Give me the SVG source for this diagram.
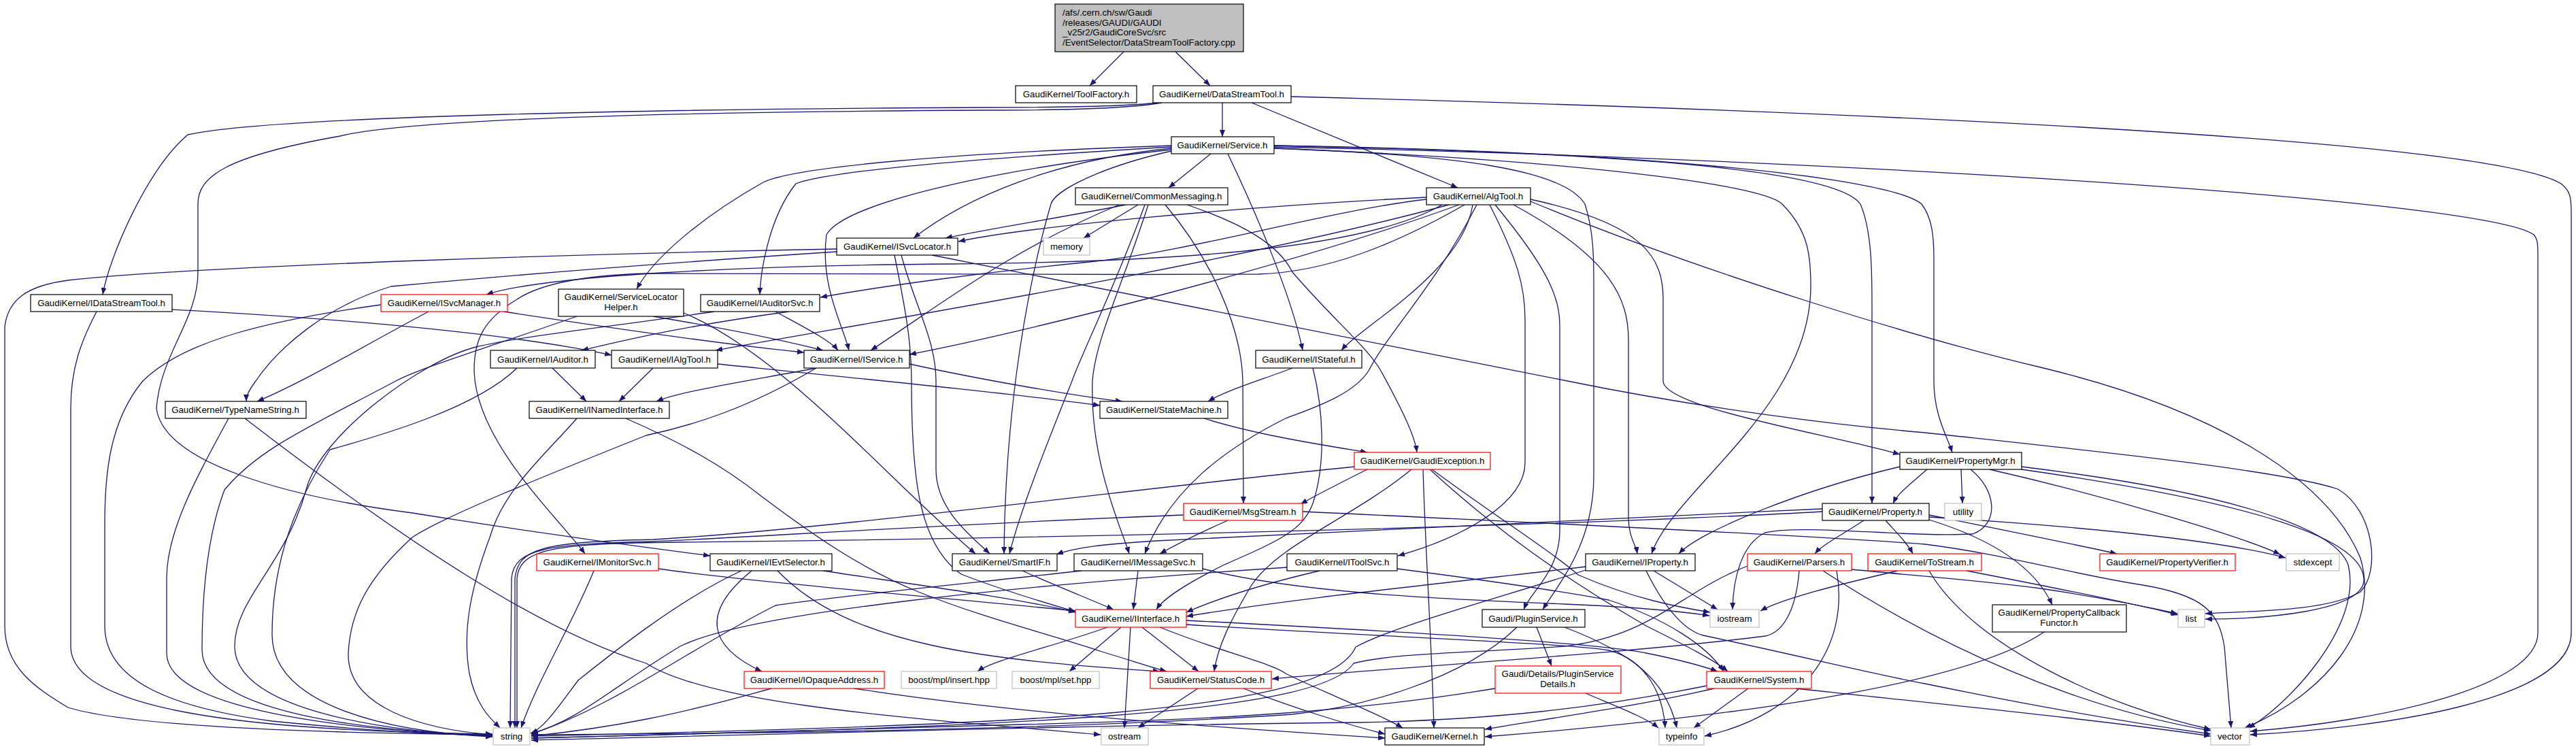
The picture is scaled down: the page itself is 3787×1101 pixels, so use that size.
<svg xmlns="http://www.w3.org/2000/svg" width="3787" height="1101" viewBox="0 0 3787 1101">
<defs>
<marker id="a" markerUnits="userSpaceOnUse" markerWidth="11" markerHeight="8" refX="10" refY="4" orient="auto"><path d="M0,0 L10,4 L0,8 z" fill="#191970"/></marker>
<style>
.node rect{fill:#fff;stroke:#000;stroke-width:1.2}
.node.red rect{stroke:#ff0000}
.node.gray rect{stroke:#bfbfbf}
.node.root rect{fill:#bfbfbf}
.node text{font-family:"Liberation Sans",Arial,Helvetica,sans-serif;font-size:13.3px;fill:#000;text-anchor:middle}
.node.root text{text-anchor:start}
#edges path{fill:none;stroke:#191970;stroke-width:1.3;marker-end:url(#a)}
</style>
</defs>
<rect x="0" y="0" width="3787" height="1101" fill="#fff"/>
<g id="edges">
<path d="M1652,76 L1602,126"/>
<path d="M1728,76 L1779,126"/>
<path d="M1797,151 L1797,201"/>
<path d="M1840,151 L2143,276"/>
<path d="M1702,151 C1650,157 1550,158 1450,158 C1000,160 400,170 276,198 C215,250 160,380 151,433"/>
<path d="M1708,151 C1660,160 1560,162 1450,162 C1000,164 600,175 500,200 C330,230 291,260 291,300 L291,400 C291,470 236,520 230,600 C240,680 420,730 606,754 C800,785 950,805 1044,817"/>
<path d="M1898,142 C2600,160 3650,200 3765,270 C3778,280 3780,290 3780,310 L3780,930 C3780,1030 3500,1070 3308,1080"/>
<path d="M1873,216 C2600,230 3650,290 3725,345 C3731,352 3731,360 3731,380 L3731,930 C3731,1010 3500,1060 3308,1075"/>
<path d="M1780,226 L1718,276"/>
<path d="M1722,218 C1550,235 1420,290 1343,350"/>
<path d="M1722,214 C1400,225 1170,245 1122,268 C1030,320 960,380 936,425"/>
<path d="M1722,216 C1450,232 1220,250 1170,270 C1130,320 1118,400 1117,433"/>
<path d="M1722,220 C1450,250 1240,300 1215,345 C1205,420 1240,480 1248,515"/>
<path d="M1805,226 C1850,320 1900,440 1915,515"/>
<path d="M1722,222 C1620,245 1550,280 1545,300 C1510,420 1478,600 1476,814"/>
<path d="M1873,214 C2400,222 2780,260 2825,300 C2840,320 2843,345 2843,380 L2843,560 C2843,610 2862,640 2870,665"/>
<path d="M1873,214 C2400,225 2700,250 2735,300 C2752,340 2752,400 2752,450 L2752,740"/>
<path d="M1873,218 C2300,235 2590,270 2620,300 C2660,340 2662,380 2662,420 C2662,600 2460,720 2428,814"/>
<path d="M1873,218 C2150,228 2300,250 2330,300 C2343,340 2343,380 2343,420 L2343,700 C2343,800 2290,860 2268,896"/>
<path d="M2120,301 C2000,370 1700,385 1400,388 C1100,390 800,405 715,433"/>
<path d="M2097,290 C1800,305 1500,335 1409,355"/>
<path d="M2097,293 C1950,310 1750,370 1602,385 C1450,400 1300,420 1206,437"/>
<path d="M2130,301 C1800,390 1300,470 1052,515"/>
<path d="M2145,301 C1900,390 1500,490 1337,521"/>
<path d="M2165,301 C2150,400 2000,480 1972,515"/>
<path d="M2153,301 C2050,360 1950,400 1850,403 C1500,405 1100,400 950,402 C850,405 790,420 760,440 C710,470 697,500 697,545 C700,650 820,760 860,814"/>
<path d="M2171,301 C2110,420 2040,490 2012,545 C1990,580 1930,600 1890,615 C1800,660 1720,720 1683,814"/>
<path d="M2190,301 C2230,380 2242,420 2242,470 L2242,680 C2242,740 2150,790 2055,817"/>
<path d="M2198,301 C2280,400 2293,440 2293,480 L2293,780 C2293,840 2250,870 2240,896"/>
<path d="M2225,301 C2370,380 2394,440 2394,500 L2394,760 C2394,790 2405,800 2407,814"/>
<path d="M2250,293 C2420,330 2445,380 2445,440 L2445,560 C2445,600 2700,640 2793,668"/>
<path d="M2250,296 C2500,400 2830,500 3000,540 C3250,600 3420,700 3470,820 C3500,920 3420,1020 3300,1070"/>
<path d="M1655,301 C1560,320 1460,335 1390,350"/>
<path d="M1645,301 C1480,370 1380,450 1280,515"/>
<path d="M1673,301 L1593,350"/>
<path d="M1683,301 C1640,420 1590,520 1576,560 C1540,650 1500,750 1484,814"/>
<path d="M1688,301 C1650,420 1610,500 1606,560 C1602,680 1650,780 1660,814"/>
<path d="M1713,301 C1780,380 1825,480 1827,560 L1828,740"/>
<path d="M1745,301 C1830,330 1880,360 1900,400 C1960,470 2010,510 2030,545 C2060,600 2080,640 2083,665"/>
<path d="M1230,366 C900,372 300,390 100,412 C40,420 12,440 7,480 L7,920 C7,980 50,1010 100,1040 C200,1070 500,1078 724,1080"/>
<path d="M1230,370 C1000,385 800,400 575,421 C480,450 410,510 376,560 C365,575 362,582 362,590"/>
<path d="M1325,375 C1345,450 1376,500 1376,560 L1376,690 C1376,750 1430,790 1455,814"/>
<path d="M1315,375 C1330,450 1340,500 1340,560 C1340,700 1350,800 1413,844 C1480,870 1550,890 1581,899"/>
<path d="M1370,375 C1700,440 2000,500 2304,560 C2500,600 2700,625 2830,636 C3050,660 3350,690 3437,719 C3490,750 3500,840 3470,870 C3420,900 3300,898 3242,902"/>
<path d="M560,448 C400,470 270,500 210,560 C160,620 154,700 154,770 L154,920 C154,1000 250,1040 400,1060 C550,1075 650,1080 724,1081"/>
<path d="M630,458 C550,500 450,560 378,590"/>
<path d="M740,458 C950,490 1100,510 1182,518"/>
<path d="M848,465 C720,510 620,540 582,560 C450,630 380,660 330,720 C300,800 297,900 297,955 C297,1050 550,1075 724,1081"/>
<path d="M960,465 C1050,480 1150,500 1210,515"/>
<path d="M1005,460 C1150,520 1300,700 1434,814"/>
<path d="M1160,458 C1000,480 920,500 855,515"/>
<path d="M1140,458 C1180,480 1220,500 1232,515"/>
<path d="M1050,458 C900,480 760,495 700,510 C620,530 470,640 450,720 C420,830 345,880 345,950 C345,1040 550,1075 724,1082"/>
<path d="M760,541 C700,600 560,640 485,661 C420,760 400,850 400,933 C400,1030 550,1075 724,1083"/>
<path d="M812,541 L862,590"/>
<path d="M960,541 L910,590"/>
<path d="M1055,535 C1300,560 1500,580 1617,596"/>
<path d="M1200,541 C1100,560 1000,575 965,590"/>
<path d="M1337,535 C1450,560 1600,585 1650,590"/>
<path d="M1200,541 C1100,600 1020,625 950,640 C800,700 650,760 606,790 C540,850 515,900 512,960 C510,1040 620,1072 724,1080"/>
<path d="M1900,541 C1850,560 1800,575 1776,590"/>
<path d="M1930,541 C1945,600 1950,680 1930,740 C1915,780 1880,795 1800,830 C1740,860 1710,880 1700,896"/>
<path d="M336,615 C290,700 245,780 245,850 L245,960 C245,1050 550,1075 724,1082"/>
<path d="M360,615 C600,800 800,930 950,975 C1050,1040 1400,1060 1618,1080"/>
<path d="M848,615 C800,670 740,720 720,790 C690,870 680,930 690,990 C700,1040 725,1060 735,1070"/>
<path d="M920,615 C1000,650 1061,683 1120,730 C1200,790 1267,836 1350,870 C1450,910 1546,933 1620,958 C1660,970 1690,980 1715,987"/>
<path d="M1770,615 C1850,640 1950,655 2010,665"/>
<path d="M1991,686 C1700,715 1200,780 960,793 C800,797 762,805 757,850 L757,1070"/>
<path d="M2010,690 C1970,710 1940,725 1912,741"/>
<path d="M2075,690 C1990,760 1880,800 1840,860 C1810,910 1790,950 1785,987"/>
<path d="M2092,690 C2095,800 2105,950 2108,1070"/>
<path d="M2102,690 C2200,780 2300,850 2420,920 C2480,950 2520,970 2540,987"/>
<path d="M2105,690 C2200,760 2280,810 2320,845 C2400,880 2470,893 2514,900"/>
<path d="M2833,690 C2810,710 2790,725 2783,740"/>
<path d="M2883,690 L2885,740"/>
<path d="M2793,686 C2650,720 2500,780 2468,814"/>
<path d="M2925,690 C3100,730 3300,790 3352,815"/>
<path d="M2972,686 C3250,720 3430,770 3452,830 C3475,920 3360,1040 3305,1070"/>
<path d="M2972,690 C3250,730 3470,780 3475,850 C3480,900 3320,910 3242,910"/>
<path d="M2897,690 C2935,720 2940,770 2900,785 C2800,790 2650,770 2595,783 C2560,800 2548,850 2547,896"/>
<path d="M2740,765 C2710,785 2680,800 2668,814"/>
<path d="M2772,765 C2790,785 2805,800 2812,814"/>
<path d="M2836,757 C2950,780 3050,800 3112,814"/>
<path d="M2836,760 C3000,770 3250,790 3360,820"/>
<path d="M2836,764 C2920,790 2990,830 3017,889"/>
<path d="M2679,752 C2400,768 1700,790 1000,797 C820,799 764,805 760,850 L760,1070"/>
<path d="M2679,748 C2300,765 1900,785 1700,795 C1620,800 1580,805 1553,815"/>
<path d="M1805,765 C1760,785 1730,800 1705,814"/>
<path d="M1740,757 C1400,770 1100,790 960,796 C805,800 756,806 752,850 L750,1070"/>
<path d="M1915,752 C2300,770 2700,790 2830,800 C2950,815 3050,845 3150,860 C3240,875 3262,900 3270,950 L3280,1070"/>
<path d="M1105,839 C1030,900 1040,950 1120,987"/>
<path d="M1090,839 C1000,880 900,960 850,1000 C820,1040 800,1070 780,1078"/>
<path d="M1143,839 C1250,950 1450,970 1705,987"/>
<path d="M1210,839 C1350,860 1500,880 1581,900"/>
<path d="M873,839 C840,920 790,1000 766,1070"/>
<path d="M968,836 C1100,855 1400,880 1581,898"/>
<path d="M1503,839 C1550,860 1600,880 1637,896"/>
<path d="M1673,839 L1666,896"/>
<path d="M1590,839 C1400,860 1200,880 1140,890 C1020,950 900,1040 781,1079"/>
<path d="M1768,836 C1900,870 2100,880 2300,888 C2420,893 2480,900 2513,905"/>
<path d="M1628,922 C1550,950 1460,970 1437,987"/>
<path d="M1648,922 L1572,987"/>
<path d="M1662,922 L1653,1070"/>
<path d="M1679,922 L1762,987"/>
<path d="M1705,922 C1800,960 1870,975 1890,990 C1950,1020 2030,1050 2062,1070"/>
<path d="M1744,912 C2000,925 2350,945 2420,960 C2470,970 2500,978 2525,987"/>
<path d="M1744,918 C2000,935 2300,945 2365,956 C2420,970 2445,1020 2448,1070"/>
<path d="M1761,1012 L1673,1070"/>
<path d="M1828,1012 C1900,1040 1980,1065 2036,1079"/>
<path d="M1134,1012 C1000,1050 900,1070 781,1082"/>
<path d="M1256,1012 C1500,1050 1800,1070 2036,1085"/>
<path d="M1940,839 C1850,860 1790,880 1744,900"/>
<path d="M2054,836 C2200,855 2300,870 2365,882 C2450,910 2510,950 2534,987"/>
<path d="M1892,834 C1500,860 1100,900 1000,950 C900,1010 850,1060 781,1078"/>
<path d="M2331,833 C2100,860 1900,880 1744,906"/>
<path d="M2431,839 L2525,896"/>
<path d="M2420,839 C2450,900 2480,928 2504,934 C2650,965 2750,990 2830,1005 C3000,1040 3150,1065 3250,1079"/>
<path d="M2331,838 C2200,880 2050,920 1993,951 C1950,1050 1500,1065 781,1082"/>
<path d="M2569,832 C2470,870 2430,935 2300,950 C2150,960 2050,960 1990,975 C1940,1050 1500,1068 781,1085"/>
<path d="M2645,839 C2640,900 2620,930 2595,935 C2400,960 2000,985 1870,998"/>
<path d="M2680,839 C2850,950 3050,1040 3250,1074"/>
<path d="M2722,837 C2800,845 2900,852 3000,865 C3100,880 3170,895 3201,902"/>
<path d="M2700,839 C2720,950 2650,1050 2506,1082"/>
<path d="M2790,839 C2700,860 2620,880 2588,898"/>
<path d="M2891,839 C3000,860 3150,890 3202,904"/>
<path d="M2836,839 C2900,950 3100,1040 3250,1072"/>
<path d="M3005,929 C2900,1000 2600,1050 2183,1083"/>
<path d="M2259,922 L2281,979"/>
<path d="M2300,922 C2400,960 2450,1000 2465,1070"/>
<path d="M2230,922 C2150,1000 2000,1040 1900,1050 C1600,1070 1200,1078 781,1080"/>
<path d="M2198,1012 C2000,1045 1800,1058 1500,1065 C1200,1072 1000,1080 781,1085"/>
<path d="M2331,1019 C2380,1040 2420,1055 2438,1070"/>
<path d="M2520,1012 C2400,1040 2250,1060 2183,1072"/>
<path d="M2570,1012 L2490,1070"/>
<path d="M2509,1008 C2350,1040 2200,1058 2000,1062 C1600,1066 1200,1078 781,1088"/>
<path d="M2640,1012 C2900,1040 3100,1060 3250,1082"/>
<path d="M253,455 C500,468 750,490 899,522"/>
<path d="M142,458 C120,500 104,540 104,600 L104,950 C104,1050 400,1075 724,1079"/>
</g>
<g id="n-root" class="node root"><rect x="1551" y="6" width="277" height="70"/><text x="1562" y="23">/afs/.cern.ch/sw/Gaudi</text><text x="1562" y="38">/releases/GAUDI/GAUDI</text><text x="1562" y="52">_v25r2/GaudiCoreSvc/src</text><text x="1562" y="67">/EventSelector/DataStreamToolFactory.cpp</text></g>
<g id="n-toolfactory" class="node"><rect x="1493" y="126" width="178" height="25"/><text x="1582" y="143">GaudiKernel/ToolFactory.h</text></g>
<g id="n-datastreamtool" class="node"><rect x="1695" y="126" width="203" height="25"/><text x="1796" y="143">GaudiKernel/DataStreamTool.h</text></g>
<g id="n-service" class="node"><rect x="1722" y="201" width="151" height="25"/><text x="1797" y="218">GaudiKernel/Service.h</text></g>
<g id="n-commonmessaging" class="node"><rect x="1581" y="276" width="224" height="25"/><text x="1693" y="293">GaudiKernel/CommonMessaging.h</text></g>
<g id="n-algtool" class="node"><rect x="2097" y="276" width="153" height="25"/><text x="2173" y="293">GaudiKernel/AlgTool.h</text></g>
<g id="n-isvclocator" class="node"><rect x="1230" y="350" width="178" height="25"/><text x="1319" y="367">GaudiKernel/ISvcLocator.h</text></g>
<g id="n-memory" class="node gray"><rect x="1534" y="350" width="68" height="25"/><text x="1568" y="367">memory</text></g>
<g id="n-idatastreamtool" class="node"><rect x="45" y="433" width="208" height="25"/><text x="149" y="450">GaudiKernel/IDataStreamTool.h</text></g>
<g id="n-isvcmanager" class="node red"><rect x="560" y="433" width="186" height="25"/><text x="653" y="450">GaudiKernel/ISvcManager.h</text></g>
<g id="n-servicelocatorhelper" class="node"><rect x="821" y="425" width="184" height="40"/><text x="913" y="441">GaudiKernel/ServiceLocator</text><text x="913" y="456">Helper.h</text></g>
<g id="n-iauditorsvc" class="node"><rect x="1030" y="433" width="175" height="25"/><text x="1117" y="450">GaudiKernel/IAuditorSvc.h</text></g>
<g id="n-iauditor" class="node"><rect x="721" y="515" width="154" height="26"/><text x="798" y="533">GaudiKernel/IAuditor.h</text></g>
<g id="n-ialgtool" class="node"><rect x="899" y="515" width="156" height="26"/><text x="977" y="533">GaudiKernel/IAlgTool.h</text></g>
<g id="n-iservice" class="node"><rect x="1182" y="515" width="155" height="26"/><text x="1259" y="533">GaudiKernel/IService.h</text></g>
<g id="n-istateful" class="node"><rect x="1846" y="515" width="156" height="26"/><text x="1924" y="533">GaudiKernel/IStateful.h</text></g>
<g id="n-typenamestring" class="node"><rect x="243" y="590" width="207" height="25"/><text x="346" y="607">GaudiKernel/TypeNameString.h</text></g>
<g id="n-inamedinterface" class="node"><rect x="778" y="590" width="206" height="25"/><text x="881" y="607">GaudiKernel/INamedInterface.h</text></g>
<g id="n-statemachine" class="node"><rect x="1617" y="590" width="188" height="25"/><text x="1711" y="607">GaudiKernel/StateMachine.h</text></g>
<g id="n-gaudiexception" class="node red"><rect x="1991" y="665" width="200" height="25"/><text x="2091" y="682">GaudiKernel/GaudiException.h</text></g>
<g id="n-propertymgr" class="node"><rect x="2793" y="665" width="179" height="25"/><text x="2882" y="682">GaudiKernel/PropertyMgr.h</text></g>
<g id="n-msgstream" class="node red"><rect x="1740" y="740" width="175" height="25"/><text x="1827" y="757">GaudiKernel/MsgStream.h</text></g>
<g id="n-property" class="node"><rect x="2679" y="740" width="157" height="25"/><text x="2757" y="757">GaudiKernel/Property.h</text></g>
<g id="n-utility" class="node gray"><rect x="2859" y="740" width="54" height="25"/><text x="2886" y="757">utility</text></g>
<g id="n-imonitorsvc" class="node red"><rect x="789" y="814" width="179" height="25"/><text x="878" y="831">GaudiKernel/IMonitorSvc.h</text></g>
<g id="n-ievtselector" class="node"><rect x="1044" y="814" width="179" height="25"/><text x="1133" y="831">GaudiKernel/IEvtSelector.h</text></g>
<g id="n-smartif" class="node"><rect x="1400" y="814" width="154" height="25"/><text x="1477" y="831">GaudiKernel/SmartIF.h</text></g>
<g id="n-imessagesvc" class="node"><rect x="1579" y="814" width="189" height="25"/><text x="1673" y="831">GaudiKernel/IMessageSvc.h</text></g>
<g id="n-itoolsvc" class="node"><rect x="1892" y="814" width="162" height="25"/><text x="1973" y="831">GaudiKernel/IToolSvc.h</text></g>
<g id="n-iproperty" class="node"><rect x="2331" y="814" width="161" height="25"/><text x="2411" y="831">GaudiKernel/IProperty.h</text></g>
<g id="n-parsers" class="node red"><rect x="2569" y="814" width="153" height="25"/><text x="2645" y="831">GaudiKernel/Parsers.h</text></g>
<g id="n-tostream" class="node red"><rect x="2746" y="814" width="167" height="25"/><text x="2829" y="831">GaudiKernel/ToStream.h</text></g>
<g id="n-propertyverifier" class="node red"><rect x="3087" y="814" width="199" height="25"/><text x="3186" y="831">GaudiKernel/PropertyVerifier.h</text></g>
<g id="n-stdexcept" class="node gray"><rect x="3361" y="814" width="78" height="25"/><text x="3400" y="831">stdexcept</text></g>
<g id="n-iinterface" class="node red"><rect x="1581" y="896" width="163" height="26"/><text x="1662" y="914">GaudiKernel/IInterface.h</text></g>
<g id="n-pluginservice" class="node"><rect x="2179" y="896" width="151" height="26"/><text x="2254" y="914">Gaudi/PluginService.h</text></g>
<g id="n-iostream" class="node gray"><rect x="2514" y="896" width="72" height="26"/><text x="2550" y="914">iostream</text></g>
<g id="n-list" class="node gray"><rect x="3202" y="896" width="39" height="26"/><text x="3221" y="914">list</text></g>
<g id="n-propertycallbackfunctor" class="node"><rect x="2929" y="889" width="197" height="40"/><text x="3027" y="905">GaudiKernel/PropertyCallback</text><text x="3027" y="920">Functor.h</text></g>
<g id="n-iopaqueaddress" class="node red"><rect x="1094" y="987" width="206" height="25"/><text x="1197" y="1004">GaudiKernel/IOpaqueAddress.h</text></g>
<g id="n-boostinsert" class="node gray"><rect x="1325" y="987" width="140" height="25"/><text x="1395" y="1004">boost/mpl/insert.hpp</text></g>
<g id="n-boostset" class="node gray"><rect x="1488" y="987" width="128" height="25"/><text x="1552" y="1004">boost/mpl/set.hpp</text></g>
<g id="n-statuscode" class="node red"><rect x="1691" y="987" width="178" height="25"/><text x="1780" y="1004">GaudiKernel/StatusCode.h</text></g>
<g id="n-pluginservicedetails" class="node red"><rect x="2198" y="979" width="185" height="40"/><text x="2290" y="995">Gaudi/Details/PluginService</text><text x="2290" y="1010">Details.h</text></g>
<g id="n-system" class="node red"><rect x="2509" y="987" width="154" height="25"/><text x="2586" y="1004">GaudiKernel/System.h</text></g>
<g id="n-string" class="node gray"><rect x="725" y="1070" width="54" height="25"/><text x="752" y="1087">string</text></g>
<g id="n-ostream" class="node gray"><rect x="1619" y="1070" width="69" height="25"/><text x="1653" y="1087">ostream</text></g>
<g id="n-kernel" class="node"><rect x="2036" y="1070" width="146" height="25"/><text x="2109" y="1087">GaudiKernel/Kernel.h</text></g>
<g id="n-typeinfo" class="node gray"><rect x="2439" y="1070" width="66" height="25"/><text x="2472" y="1087">typeinfo</text></g>
<g id="n-vector" class="node gray"><rect x="3250" y="1070" width="57" height="25"/><text x="3278" y="1087">vector</text></g>
</svg>
